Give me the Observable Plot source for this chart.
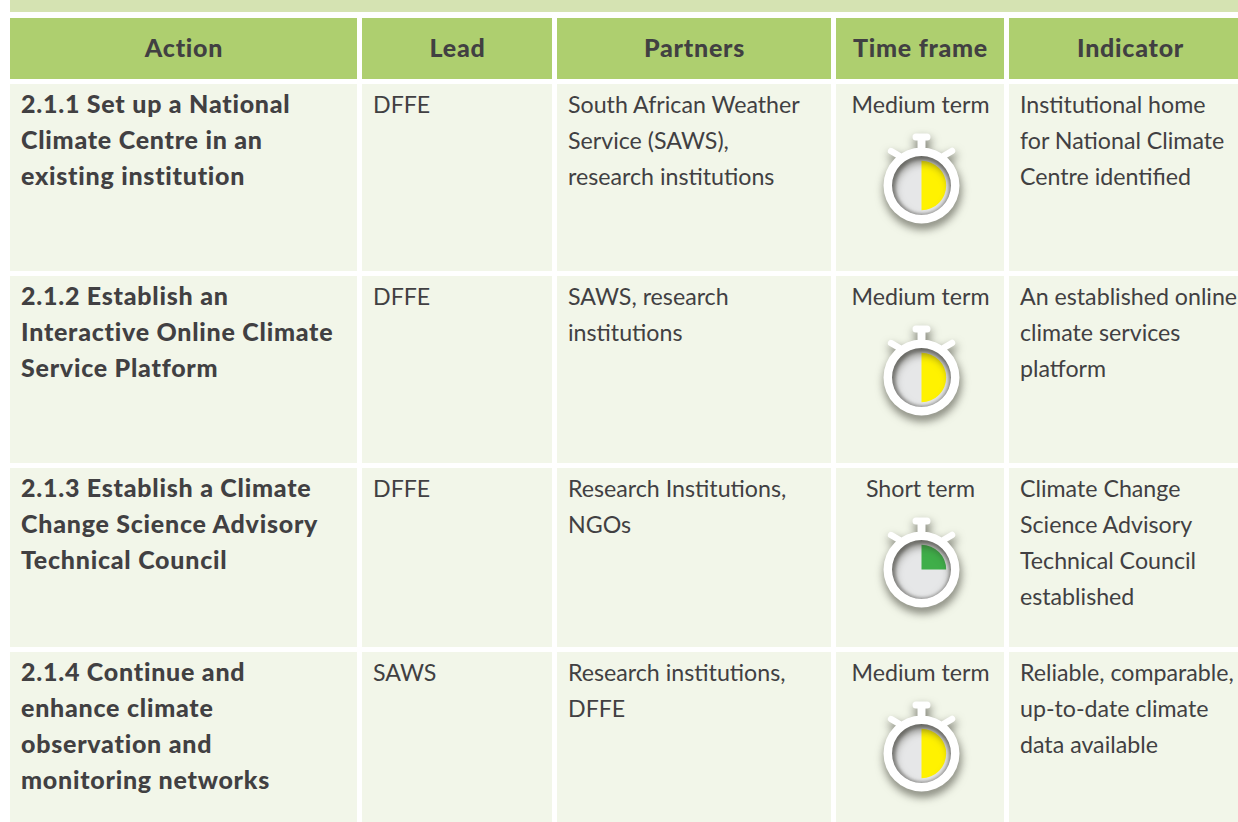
<!DOCTYPE html>
<html>
<head>
<meta charset="utf-8">
<script src="https://cdn.jsdelivr.net/npm/d3@7"></script>
<script src="https://cdn.jsdelivr.net/npm/@observablehq/plot@0.6"></script>
<style>html,body{margin:0;padding:0;background:#fff;overflow:hidden}svg{display:block}g[font-weight="900"]{letter-spacing:.75px}</style>
</head>
<body>
<div id="chart"></div>
<script>
const headers = ["Action", "Lead", "Partners", "Time frame", "Indicator"];
const actions = [
  "2.1.1 Set up a National\nClimate Centre in an\nexisting institution",
  "2.1.2 Establish an\nInteractive Online Climate\nService Platform",
  "2.1.3 Establish a Climate\nChange Science Advisory\nTechnical Council",
  "2.1.4 Continue and\nenhance climate\nobservation and\nmonitoring networks"
];
const leads = ["DFFE", "DFFE", "DFFE", "SAWS"];
const partners = [
  "South African Weather\nService (SAWS),\nresearch institutions",
  "SAWS, research\ninstitutions",
  "Research Institutions,\nNGOs",
  "Research institutions,\nDFFE"
];
const timeFrames = ["Medium term", "Medium term", "Short term", "Medium term"];
const indicators = [
  "Institutional home\nfor National Climate\nCentre identified",
  "An established online\nclimate services\nplatform",
  "Climate Change\nScience Advisory\nTechnical Council\nestablished",
  "Reliable, comparable,\nup-to-date climate\ndata available"
];
const timeShare = {"Short term": 0.25, "Medium term": 0.5};
const timeColor = {"Short term": "#3fae49", "Medium term": "#fff200"};

// Table layout: column and row boundaries in the picture's pixels
const columns = [[10, 357], [362, 552], [557, 831], [836, 1004], [1009, 1238]];
const headerCentres = [183.5, 457, 694, 920, 1130];
const rows = [[84, 271], [276, 463], [468, 647], [652, 822]];
const headerRow = [18, 79];
const band = [0, 12];
const W = 1238, H = 822;
const ink = "#414042", font = "Lato, sans-serif", fontSize = 23.2;

const cells = rows.flatMap(r => columns.map(c => ({x1: c[0], x2: c[1], y1: r[0], y2: r[1]})));
const headerCells = columns.map((c, i) => ({x1: c[0], x2: c[1], y1: headerRow[0], y2: headerRow[1], xc: headerCentres[i], label: headers[i]}));
const cellText = (values, col, pad) => values.map((t, i) => ({t, x: columns[col][0] + pad, y: rows[i][0] + 2.5}));
const watches = timeFrames.map((t, i) => ({t, x: (columns[3][0] + columns[3][1]) / 2 + 1, y: rows[i][0] + 101}));

const scaleOf = size => Math.sqrt(size / Math.PI) / 38;
function capsule(ctx, k, x0, y0, x1, y1, r) {
  const a = Math.atan2(y1 - y0, x1 - x0);
  ctx.moveTo(k * x0 + k * r * Math.cos(a + Math.PI / 2), k * y0 + k * r * Math.sin(a + Math.PI / 2));
  ctx.arc(k * x0, k * y0, k * r, a + Math.PI / 2, a + 3 * Math.PI / 2);
  ctx.arc(k * x1, k * y1, k * r, a - Math.PI / 2, a + Math.PI / 2);
  ctx.closePath();
}
// stopwatch case: ring, crown, stem and two ears, with the dial hole cut out
const caseSymbol = {draw(ctx, size) {
  const k = scaleOf(size);
  ctx.moveTo(38 * k, 0);
  ctx.arc(0, 0, 38 * k, 0, 2 * Math.PI);
  ctx.closePath();
  ctx.moveTo(29.5 * k, 0);
  ctx.arc(0, 0, 29.5 * k, 0, -2 * Math.PI, true);
  ctx.closePath();
  ctx.moveTo(-4 * k, -47 * k); ctx.lineTo(4 * k, -47 * k); ctx.lineTo(4 * k, -36 * k); ctx.lineTo(-4 * k, -36 * k); ctx.closePath();
  capsule(ctx, k, -5.5, -48.5, 5.5, -48.5, 3.5);
  capsule(ctx, k, 22, -29.5, 30.5, -34.5, 3.2);
  capsule(ctx, k, -30.5, -34.5, -22, -29.5, 3.2);
}};
// quarter or half wedge measured clockwise from 12 o'clock
const wedgeSymbol = share => ({draw(ctx, size) {
  const k = scaleOf(size), R = 24.7 * k;
  ctx.moveTo(0, 0);
  ctx.lineTo(0, -R);
  ctx.arc(0, 0, R, -Math.PI / 2, -Math.PI / 2 + share * 2 * Math.PI);
  ctx.closePath();
}});
const textBase = {fontFamily: font, fontSize, fill: ink, lineHeight: 36 / fontSize, lineAnchor: "top", text: "t", x: "x", y: "y"};
const boldBase = {...textBase, fontSize: 25, lineHeight: 36 / 25, fontWeight: 900};

const plot = Plot.plot({
  width: W, height: H, margin: 0,
  style: {background: "#fff"},
  x: {type: "linear", domain: [0, W], range: [0, W], axis: null},
  y: {type: "linear", domain: [0, H], range: [0, H], axis: null},
  marks: [
    Plot.rect([{x1: columns[0][0], x2: W, y1: band[0], y2: band[1]}], {x1: "x1", x2: "x2", y1: "y1", y2: "y2", fill: "#d5e3b2"}),
    Plot.rect(headerCells, {x1: "x1", x2: "x2", y1: "y1", y2: "y2", fill: "#aecf6f"}),
    Plot.rect(cells, {x1: "x1", x2: "x2", y1: "y1", y2: "y2", fill: "#f2f6e9"}),
    Plot.text(headerCells, {x: "xc", y: d => (d.y1 + d.y2) / 2 - 0.5, text: "label", fontFamily: font, fontSize: 25, fontWeight: 900, fill: ink, textAnchor: "middle", lineAnchor: "middle"}),
    Plot.text(cellText(actions, 0, 10.5), {...boldBase, textAnchor: "start"}),
    Plot.text(cellText(leads, 1, 10.5), {...textBase, textAnchor: "start"}),
    Plot.text(cellText(partners, 2, 10.5), {...textBase, textAnchor: "start"}),
    Plot.text(timeFrames.map((t, i) => ({t, x: (columns[3][0] + columns[3][1]) / 2, y: rows[i][0] + 2.5})), {...textBase, textAnchor: "middle"}),
    Plot.text(cellText(indicators, 4, 10.5), {...textBase, textAnchor: "start"}),
    Plot.dot(watches, {x: "x", y: "y", r: 30, fill: "#a8a8a8"}),
    Plot.dot(watches, {x: "x", y: "y", r: 27, dx: 1, dy: 1, fill: "#e6e7e8", imageFilter: "blur(1.5px)"}),
    ...Object.keys(timeShare).map(name => Plot.dot(watches.filter(d => d.t === name), {
      x: "x", y: "y", r: 38, symbol: wedgeSymbol(timeShare[name]), fill: timeColor[name]
    })),
    Plot.dot(watches, {x: "x", y: "y", r: 38, symbol: caseSymbol, fill: "#fff", imageFilter: "drop-shadow(1px 5px 5px rgba(50,50,40,0.7))"})
  ]
});
document.getElementById("chart").append(plot);
</script>
</body>
</html>
